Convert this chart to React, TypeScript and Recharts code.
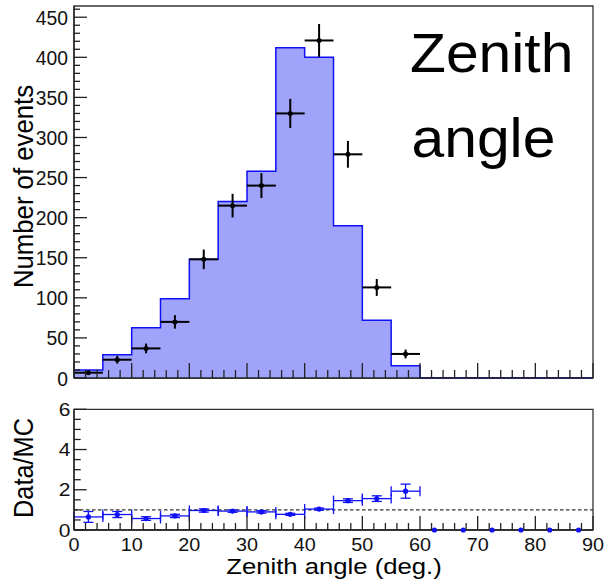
import {
  ComposedChart,
  Area,
  Scatter,
  ErrorBar,
  XAxis,
  YAxis,
  ReferenceLine,
  ReferenceArea,
} from "recharts";

// 5 degree bins over 0..90
const binEdges = [0, 5, 10, 15, 20, 25, 30, 35, 40, 45, 50, 55, 60, 65, 70, 75, 80, 85, 90];
const binCenters = [2.5, 7.5, 12.5, 17.5, 22.5, 27.5, 32.5, 37.5, 42.5, 47.5, 52.5, 57.5, 62.5, 67.5, 72.5, 77.5, 82.5, 87.5];

// simulated counts per bin
const mcCounts = [10, 29, 62.6, 99, 148, 220, 258, 412, 400, 190, 72, 15.3, 0, 0, 0, 0, 0, 0];

// observed counts (only non-empty bins are drawn)
const dataCounts = [6.6, 22.8, 36.9, 70, 148, 215, 240, 330, 421, 279, 113, 30];
const dataErrors = [2.6, 4.8, 6.1, 8.4, 12.2, 14.7, 15.5, 18.2, 20.5, 16.7, 10.6, 5.5];

// Data/MC ratio
const ratioValues = [0.65, 0.77, 0.57, 0.7, 0.97, 0.94, 0.9, 0.78, 1.04, 1.46, 1.56, 1.93, 0, 0, 0, 0, 0, 0];
const ratioErrors = [0.27, 0.15, 0.09, 0.08, 0.08, 0.06, 0.06, 0.05, 0.05, 0.09, 0.14, 0.35, 0, 0, 0, 0, 0, 0];

const xTicks = [0, 2, 4, 6, 8, 10, 12, 14, 16, 18, 20, 22, 24, 26, 28, 30, 32, 34, 36, 38, 40, 42, 44, 46, 48, 50, 52, 54, 56, 58, 60, 62, 64, 66, 68, 70, 72, 74, 76, 78, 80, 82, 84, 86, 88, 90];
const xLabels = [0, 10, 20, 30, 40, 50, 60, 70, 80, 90];
const yTicksTop = [0, 10, 20, 30, 40, 50, 60, 70, 80, 90, 100, 110, 120, 130, 140, 150, 160, 170, 180, 190, 200, 210, 220, 230, 240, 250, 260, 270, 280, 290, 300, 310, 320, 330, 340, 350, 360, 370, 380, 390, 400, 410, 420, 430, 440, 450, 460];
const yLabelsTop = [0, 50, 100, 150, 200, 250, 300, 350, 400, 450];
const yTicksRatio = [0, 0.5, 1, 1.5, 2, 2.5, 3, 3.5, 4, 4.5, 5, 5.5, 6];
const yLabelsRatio = [0, 2, 4, 6];

const histData = binEdges.map((x, i) => ({ x, y: mcCounts[Math.min(i, mcCounts.length - 1)] }));
const pointData = dataCounts.map((y, i) => ({ x: binCenters[i], y, ex: 2.5, ey: dataErrors[i] }));
const ratioData = ratioValues.map((y, i) => ({
  x: binCenters[i],
  y,
  ex: y > 0 ? 2.5 : 0,
  ey: ratioErrors[i],
}));

const FONT = "'Liberation Sans', Arial, Helvetica, sans-serif";
const AXIS = "#222";
const BLUE = "#1010f5";

const TopXTick = ({ x, y, payload }: any) => {
  const major = payload.value % 10 === 0;
  return <line x1={x} x2={x} y1={y} y2={y - (major ? 15 : 8)} stroke={AXIS} strokeWidth={1.3} />;
};

const RatioXTick = ({ x, y, payload }: any) => {
  const major = xLabels.includes(payload.value);
  return (
    <g>
      <line x1={x} x2={x} y1={y} y2={y - (major ? 14 : 7)} stroke={AXIS} strokeWidth={1.3} />
      {major && (
        <text transform={`translate(${x},${y + 21}) scale(1.1,1)`} textAnchor="middle" fontSize={18} fontFamily={FONT} fill="#111">
          {payload.value}
        </text>
      )}
    </g>
  );
};

const TopYTick = ({ x, y, payload }: any) => {
  const major = yLabelsTop.includes(payload.value);
  return (
    <g>
      <line x1={x} x2={x + (major ? 13 : 6)} y1={y} y2={y} stroke={AXIS} strokeWidth={1.3} />
      {major && (
        <text transform={`translate(${x - 6},${y + 7.5}) scale(0.92,1)`} textAnchor="end" fontSize={21} fontFamily={FONT} fill="#111">
          {payload.value}
        </text>
      )}
    </g>
  );
};

const RatioYTick = ({ x, y, payload }: any) => {
  const major = yLabelsRatio.includes(payload.value);
  return (
    <g>
      <line x1={x} x2={x + (major ? 12.7 : 6.7)} y1={y} y2={y} stroke={AXIS} strokeWidth={1.3} />
      {major && (
        <text transform={`translate(${x - 3.5},${y + 6.5}) scale(1.2,1)`} textAnchor="end" fontSize={17.5} fontFamily={FONT} fill="#111">
          {payload.value}
        </text>
      )}
    </g>
  );
};

const BlackDot = (p: any) => <circle cx={p.cx} cy={p.cy} r={2.5} fill="#000" />;
const BlueDot = (p: any) => <circle cx={p.cx} cy={p.cy} r={2.6} fill={BLUE} />;

export default function App() {
  return (
    <div style={{ position: "absolute", left: 0, top: 0, width: 606, height: 584, background: "#fff" }}>
      <div style={{ position: "absolute", left: 0, top: 0 }}>
        <ComposedChart width={606} height={390} data={histData} margin={{ top: 6, right: 13, left: 0, bottom: 0 }}>
          <ReferenceArea x1={0} x2={90} y1={0} y2={464} fill="none" stroke="#333" strokeWidth={1.3} />
          <XAxis
            type="number"
            dataKey="x"
            domain={[0, 90]}
            ticks={xTicks}
            interval={0}
            height={12}
            tickSize={0}
            tickMargin={0}
            tickLine={false}
            axisLine={{ stroke: AXIS, strokeWidth: 1.3 }}
            tick={(p: any) => <TopXTick {...p} />}
          />
          <YAxis
            type="number"
            domain={[0, 464]}
            ticks={yTicksTop}
            interval={0}
            width={74}
            tickSize={0}
            tickMargin={0}
            tickLine={false}
            axisLine={{ stroke: AXIS, strokeWidth: 1.3 }}
            tick={(p: any) => <TopYTick {...p} />}
          />
          <Area
            type="stepAfter"
            dataKey="y"
            stroke={BLUE}
            strokeWidth={1.5}
            fill="#a0a3fa"
            fillOpacity={1}
            isAnimationActive={false}
          />
          <Scatter data={pointData} dataKey="y" shape={BlackDot} isAnimationActive={false}>
            <ErrorBar dataKey="ex" direction="x" width={0} stroke="#000" strokeWidth={2} />
            <ErrorBar dataKey="ey" direction="y" width={0} stroke="#000" strokeWidth={2} />
          </Scatter>
        </ComposedChart>
      </div>

      <div style={{ position: "absolute", left: 0, top: 390 }}>
        <ComposedChart width={606} height={194} margin={{ top: 19.3, right: 13, left: 0, bottom: 0 }}>
          <ReferenceArea x1={0} x2={90} y1={0} y2={6} fill="none" stroke="#333" strokeWidth={1.3} />
          <XAxis
            type="number"
            dataKey="x"
            domain={[0, 90]}
            ticks={xTicks}
            interval={0}
            height={54}
            tickSize={0}
            tickMargin={0}
            tickLine={false}
            axisLine={{ stroke: AXIS, strokeWidth: 1.3 }}
            tick={(p: any) => <RatioXTick {...p} />}
          />
          <YAxis
            type="number"
            domain={[0, 6]}
            ticks={yTicksRatio}
            interval={0}
            width={74}
            tickSize={0}
            tickMargin={0}
            tickLine={false}
            axisLine={{ stroke: AXIS, strokeWidth: 1.3 }}
            tick={(p: any) => <RatioYTick {...p} />}
          />
          <ReferenceLine y={1} stroke="#333" strokeWidth={1.2} strokeDasharray="3.5 2.5" />
          <Scatter data={ratioData} dataKey="y" shape={BlueDot} isAnimationActive={false}>
            <ErrorBar dataKey="ex" direction="x" width={5} stroke={BLUE} strokeWidth={1.3} />
            <ErrorBar dataKey="ey" direction="y" width={5} stroke={BLUE} strokeWidth={1.3} />
          </Scatter>
        </ComposedChart>
      </div>

      <svg width={606} height={584} style={{ position: "absolute", left: 0, top: 0, pointerEvents: "none" }}>
        <g fontFamily={FONT} fill="#000">
          <text transform="translate(410,72) scale(1.05,1)" fontSize={56}>Zenith</text>
          <text transform="translate(411.5,157) scale(1.05,1)" fontSize={56}>angle</text>
          <text transform="translate(33.3,186.5) rotate(-90) scale(0.92,1)" textAnchor="middle" fontSize={28}>
            Number of events
          </text>
          <text transform="translate(33.3,468) rotate(-90) scale(0.905,1)" textAnchor="middle" fontSize={28}>
            Data/MC
          </text>
          <text transform="translate(334,574.3) scale(1.2,1)" textAnchor="middle" fontSize={21.4}>
            Zenith angle (deg.)
          </text>
        </g>
      </svg>
    </div>
  );
}
